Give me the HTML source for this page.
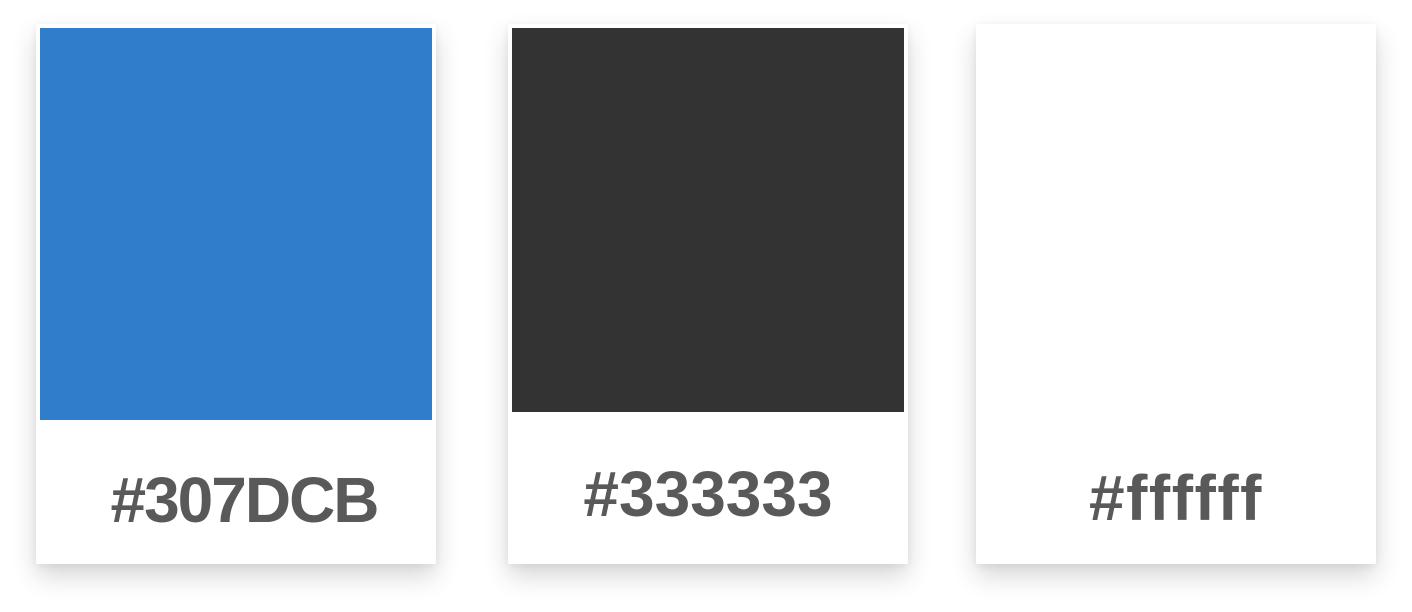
<!DOCTYPE html>
<html><head><style>
html,body{margin:0;padding:0;background:#fff;width:1412px;height:612px;overflow:hidden;position:relative}
.card{position:absolute;top:24px;width:400px;height:540px;background:#fff;box-shadow:0 12px 24px rgba(0,0,0,0.16),0 2px 8px rgba(0,0,0,0.06)}
.sw{position:absolute;left:4px;top:4px;width:392px}
.t{position:absolute;left:0;width:400px;text-align:center;font-family:"Liberation Sans",sans-serif;font-weight:bold;font-size:64px;color:#595959;line-height:1}
</style></head><body>
<div class="card" style="left:36px"><div class="sw" style="height:392px;background:#307DCB"></div><div class="t" style="top:444px;left:8px;letter-spacing:-2px">#307DCB</div></div>
<div class="card" style="left:508px"><div class="sw" style="height:384px;background:#333333"></div><div class="t" style="top:438px;letter-spacing:0">#333333</div></div>
<div class="card" style="left:976px"><div class="t" style="top:442px;letter-spacing:1.5px">#ffffff</div></div>
</body></html>
